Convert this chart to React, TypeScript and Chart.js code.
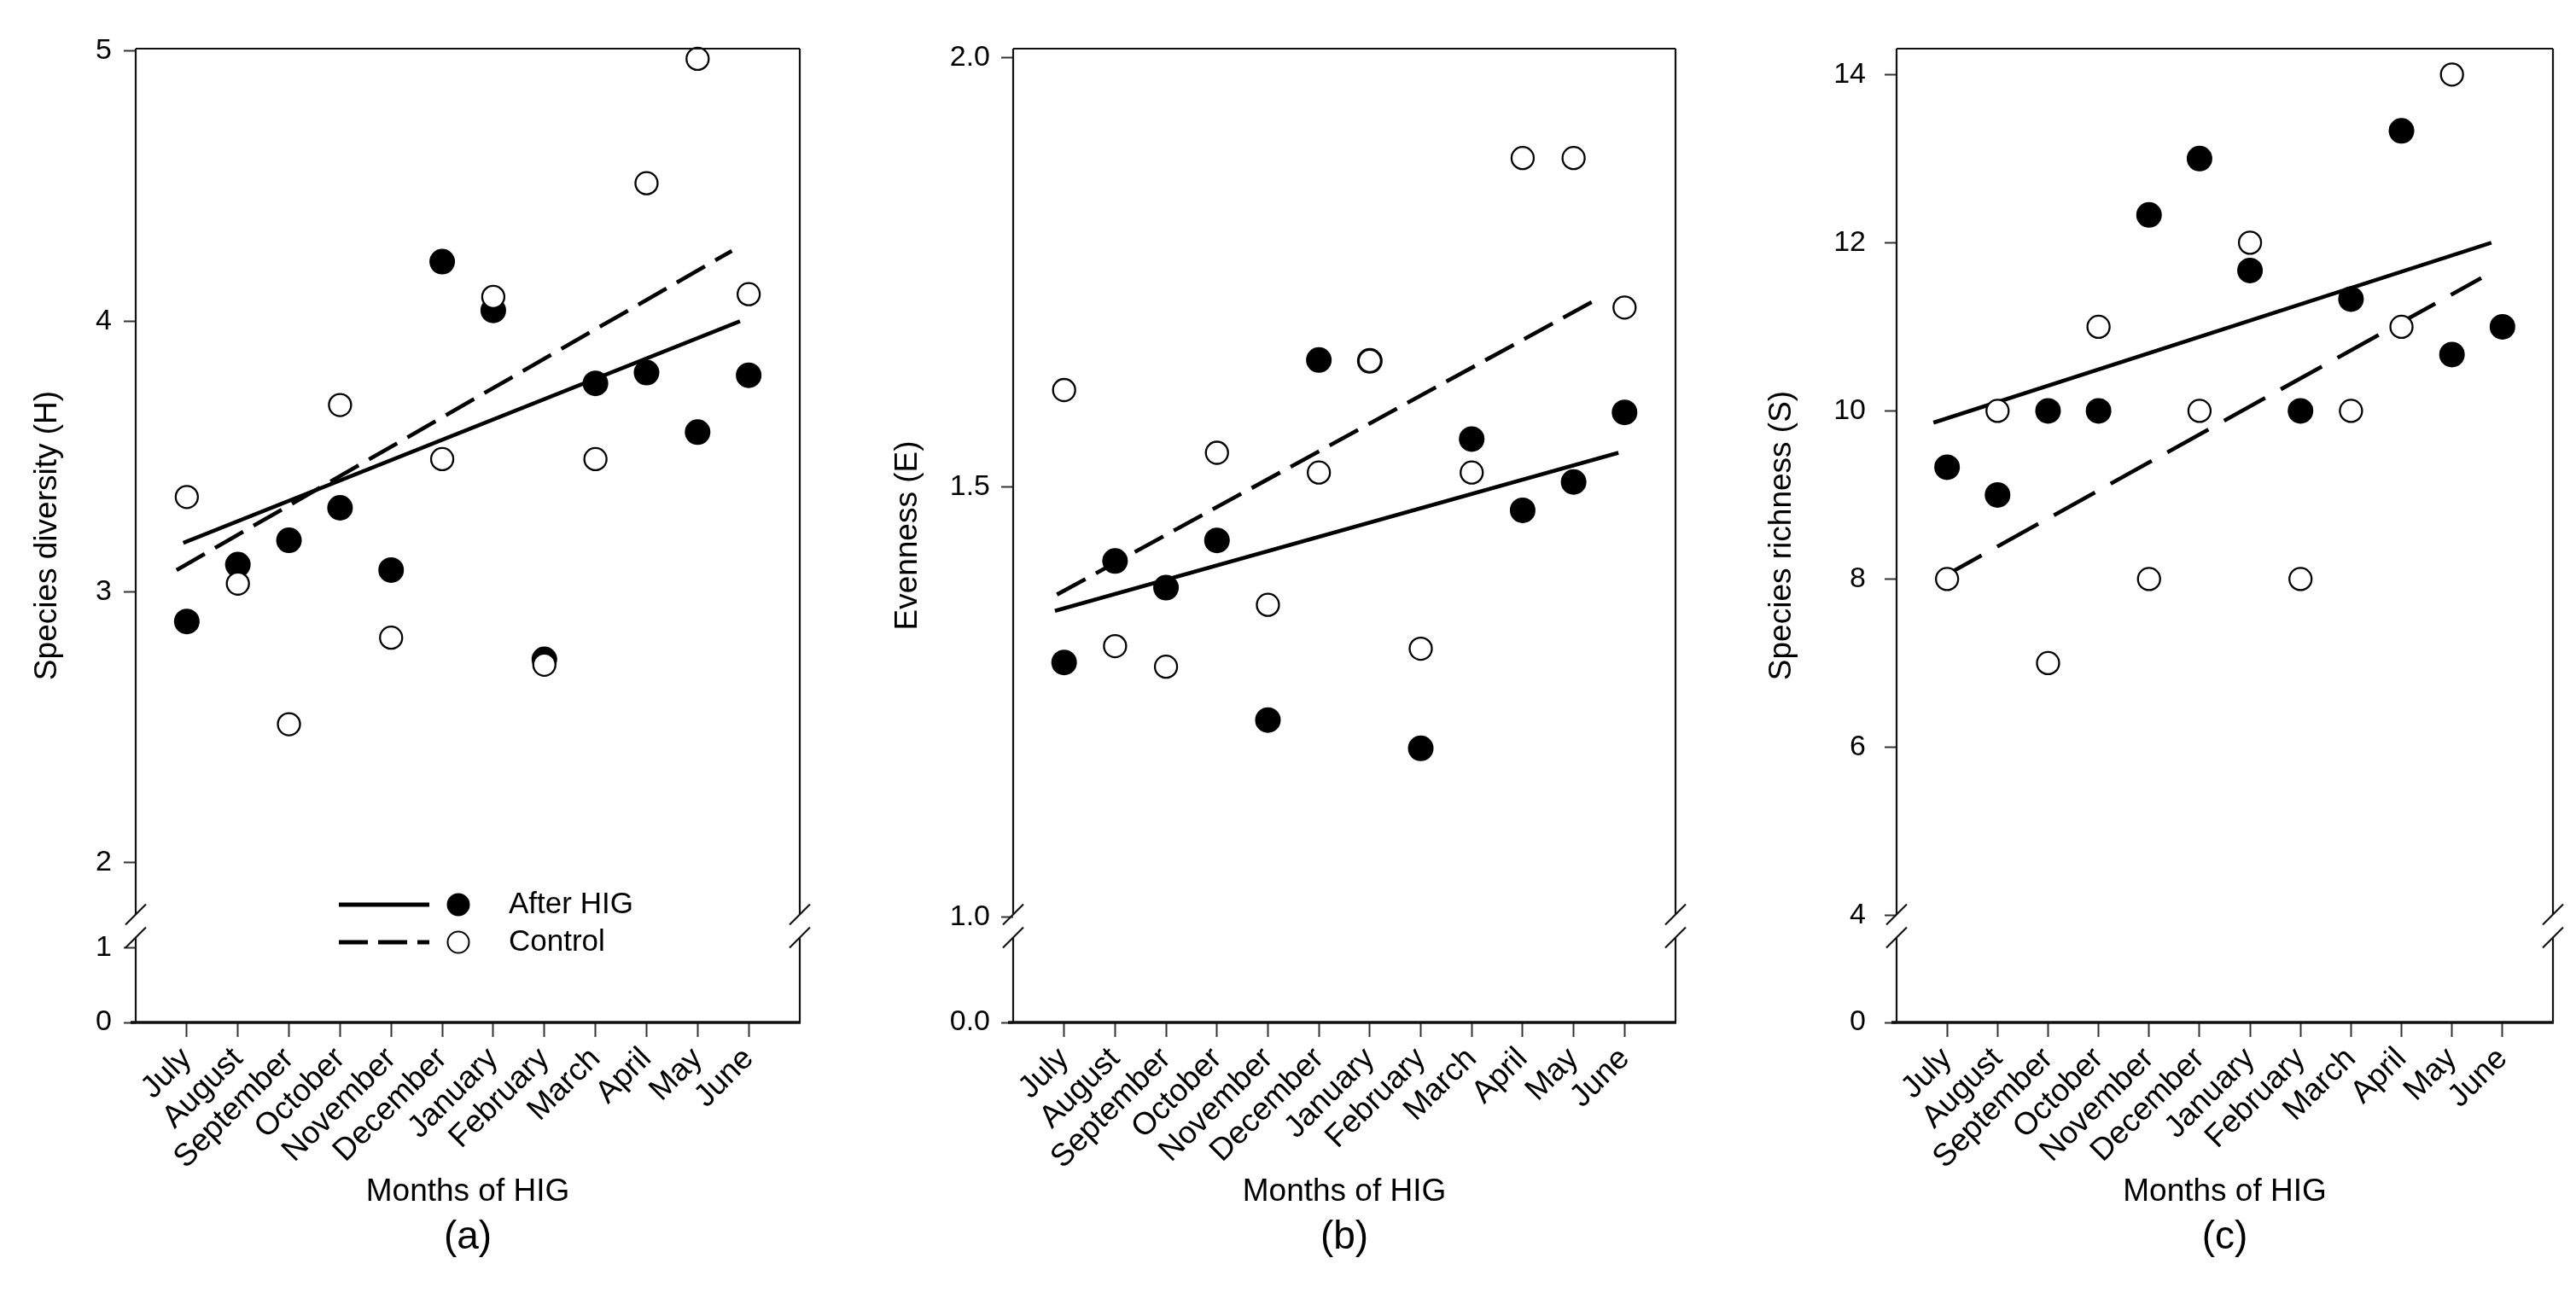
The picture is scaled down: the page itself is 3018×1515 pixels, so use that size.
"use client";

import { useEffect, useRef } from "react";

import { Chart, LinearScale, LineElement, PointElement, ScatterController, Title } from "chart.js";

const months = [
  "July",
  "August",
  "September",
  "October",
  "November",
  "December",
  "January",
  "February",
  "March",
  "April",
  "May",
  "June",
];

// (a) species diversity
const diversityAfter = [2.89, 3.1, 3.19, 3.31, 3.08, 4.22, 4.04, 2.75, 3.77, 3.81, 3.59, 3.8];
const diversityControl = [3.35, 3.03, 2.51, 3.69, 2.83, 3.49, 4.09, 2.73, 3.49, 4.51, 4.97, 4.1];
const diversityAfterFit = [
  [-0.07, 3.18],
  [10.83, 4.0],
];
const diversityControlFit = [
  [-0.2, 3.08],
  [10.67, 4.26],
];
const diversityTicks = [0, 1, 2, 3, 4, 5];

// (b) evenness
const evennessAfter = [1.296, 1.414, 1.383, 1.438, 1.229, 1.648, 1.647, 1.196, 1.556, 1.473, 1.506, 1.587];
const evennessControl = [1.613, 1.315, 1.291, 1.54, 1.363, 1.517, 1.647, 1.312, 1.517, 1.883, 1.883, 1.709];
const evennessAfterFit = [
  [-0.18, 1.356],
  [10.88, 1.54],
];
const evennessControlFit = [
  [-0.14, 1.375],
  [10.56, 1.722],
];
const evennessTicks = [0, 1, 1.5, 2];

// (c) species richness
const richnessAfter = [9.33, 9, 10, 10, 12.33, 13, 11.67, 10, 11.33, 13.33, 10.67, 11];
const richnessControl = [8, 10, 7, 11, 8, 10, 12, 8, 10, 11, 14, null];
const richnessAfterFit = [
  [-0.27, 9.86],
  [10.78, 12.0],
];
const richnessControlFit = [
  [-0.13, 8.01],
  [10.58, 11.58],
];
const richnessTicks = [0, 4, 6, 8, 10, 12, 14];

// linear scale with a broken (piecewise) axis
class BrokenScale extends LinearScale {
  static id = "broken";
  static defaults = {};

  buildTicks() {
    const vals = (this.options as any).tickValues || [];
    return vals.map((value: number) => ({ value }));
  }

  valueToDecimal(v: number) {
    const vals = (this.options as any).breakValues;
    const decs = (this.options as any).breakDecimals;
    let i = 0;
    while (i < vals.length - 2 && v > vals[i + 1]) i++;
    return decs[i] + ((v - vals[i]) / (vals[i + 1] - vals[i])) * (decs[i + 1] - decs[i]);
  }

  getPixelForValue(value: number) {
    if (value === null || value === undefined || isNaN(value)) return NaN;
    return this.getPixelForDecimal(this.valueToDecimal(value));
  }

  getValueForPixel(pixel: number) {
    const d = this.getDecimalForPixel(pixel);
    const vals = (this.options as any).breakValues;
    const decs = (this.options as any).breakDecimals;
    let i = 0;
    while (i < decs.length - 2 && d > decs[i + 1]) i++;
    return vals[i] + ((d - decs[i]) / (decs[i + 1] - decs[i])) * (vals[i + 1] - vals[i]);
  }
}

Chart.register(ScatterController, PointElement, LineElement, LinearScale, BrokenScale, Title);
Chart.defaults.font.family = "'Liberation Sans', Arial, sans-serif";
Chart.defaults.color = "#000";

const FONT = "'Liberation Sans', Arial, sans-serif";
const PAGE_H = 1515;

const framePlugin = (breakDecimal: number) => ({
  id: "frame",
  afterDatasetsDraw(chart: any) {
    const { ctx, chartArea } = chart;
    const { left, right, top, bottom } = chartArea;
    const yb = chart.scales.y.getPixelForDecimal(breakDecimal);
    const gap = 13.5;
    const line = (x1: number, y1: number, x2: number, y2: number) => {
      ctx.beginPath();
      ctx.moveTo(x1, y1);
      ctx.lineTo(x2, y2);
      ctx.stroke();
    };
    ctx.save();
    ctx.strokeStyle = "#111";
    ctx.lineWidth = 2.2;
    line(left, top, right, top);
    [left, right].forEach((x) => {
      line(x, top, x, yb - gap);
      line(x, yb + gap, x, bottom);
      line(x - 12, yb - gap + 12, x + 12, yb - gap - 12);
      line(x - 12, yb + gap + 12, x + 12, yb + gap - 12);
    });
    ctx.lineWidth = 3.5;
    line(left - 6, bottom, right + 1, bottom);
    ctx.restore();
  },
});

const legendPlugin = {
  id: "insideLegend",
  afterDatasetsDraw(chart: any) {
    const { ctx, chartArea } = chart;
    const ds = chart.data.datasets;
    const rows = [
      { line: ds[2], point: ds[1], y: chartArea.bottom - 138 },
      { line: ds[3], point: ds[0], y: chartArea.bottom - 94 },
    ];
    ctx.save();
    rows.forEach((row) => {
      const x = chartArea.left;
      ctx.strokeStyle = row.line.borderColor;
      ctx.lineWidth = 5;
      ctx.setLineDash(row.line.borderDash ? [34, 12] : []);
      ctx.beginPath();
      ctx.moveTo(x + 238, row.y);
      ctx.lineTo(x + 344, row.y);
      ctx.stroke();
      ctx.setLineDash([]);
      ctx.beginPath();
      ctx.arc(x + 378, row.y, 12.5, 0, Math.PI * 2);
      ctx.fillStyle = row.point.pointBackgroundColor;
      ctx.fill();
      ctx.lineWidth = 2;
      ctx.strokeStyle = "#000";
      ctx.stroke();
      ctx.fillStyle = "#000";
      ctx.font = `35px ${FONT}`;
      ctx.textAlign = "left";
      ctx.textBaseline = "middle";
      ctx.fillText(row.point.label, x + 437, row.y);
    });
    ctx.restore();
  },
};

const toPoints = (values: (number | null)[]) => values.map((y, x) => ({ x, y }));
const toFit = (pairs: number[][]) => pairs.map(([x, y]) => ({ x, y }));

type PanelSpec = {
  letter: string;
  left: number;
  width: number;
  axisWidth: number;
  padRight: number;
  titlePad: number;
  tickPad: number;
  yTitle: string;
  after: number[];
  control: (number | null)[];
  afterFit: number[][];
  controlFit: number[][];
  ticks: number[];
  tickFormat: (v: number) => string;
  breakValues: number[];
  breakDecimals: number[];
  dash: number[];
  legend: boolean;
};

const panels: PanelSpec[] = [
  {
    letter: "(a)",
    left: 0,
    width: 1000,
    axisWidth: 159,
    padRight: 63,
    titlePad: 33.8,
    tickPad: 14,
    yTitle: "Species diversity (H)",
    after: diversityAfter,
    control: diversityControl,
    afterFit: diversityAfterFit,
    controlFit: diversityControlFit,
    ticks: diversityTicks,
    tickFormat: (v) => String(v),
    breakValues: [0, 1, 2, 5.0076],
    breakDecimals: [0, 0.077, 0.1646, 1],
    dash: [38, 14],
    legend: true,
  },
  {
    letter: "(b)",
    left: 1000,
    width: 1000,
    axisWidth: 187,
    padRight: 37,
    titlePad: 41.8,
    tickPad: 13,
    yTitle: "Evenness (E)",
    after: evennessAfter,
    control: evennessControl,
    afterFit: evennessAfterFit,
    controlFit: evennessControlFit,
    ticks: evennessTicks,
    tickFormat: (v) => v.toFixed(1),
    breakValues: [0, 1, 2.0103],
    breakDecimals: [0, 0.1085, 1],
    dash: [38, 14],
    legend: false,
  },
  {
    letter: "(c)",
    left: 2000,
    width: 1018,
    axisWidth: 222,
    padRight: 27,
    titlePad: 65.8,
    tickPad: 22,
    yTitle: "Species richness (S)",
    after: richnessAfter,
    control: richnessControl,
    afterFit: richnessAfterFit,
    controlFit: richnessControlFit,
    ticks: richnessTicks,
    tickFormat: (v) => String(v),
    breakValues: [0, 4, 14.308],
    breakDecimals: [0, 0.11, 1],
    dash: [55, 21],
    legend: false,
  },
];

function buildConfig(p: PanelSpec): any {
  return {
    type: "scatter",
    data: {
      datasets: [
        {
          label: "Control",
          data: toPoints(p.control),
          pointRadius: 13,
          pointBorderWidth: 2.3,
          pointBackgroundColor: "#fff",
          pointBorderColor: "#000",
          clip: false,
        },
        {
          label: "After HIG",
          data: toPoints(p.after),
          pointRadius: 15,
          pointBorderWidth: 0,
          pointBackgroundColor: "#000",
          pointBorderColor: "#000",
          clip: false,
        },
        {
          label: "After HIG fit",
          data: toFit(p.afterFit),
          showLine: true,
          pointRadius: 0,
          borderColor: "#000",
          borderWidth: 4.6,
          clip: false,
        },
        {
          label: "Control fit",
          data: toFit(p.controlFit),
          showLine: true,
          pointRadius: 0,
          borderColor: "#000",
          borderWidth: 4.6,
          borderDash: p.dash,
          clip: false,
        },
      ],
    },
    options: {
      animation: false,
      responsive: true,
      maintainAspectRatio: false,
      events: [],
      layout: { padding: { top: 57, right: p.padRight, left: 0, bottom: 0 } },
      scales: {
        x: {
          type: "linear",
          min: -1,
          max: 12,
          afterBuildTicks: (s: any) => {
            s.ticks = months.map((_, i) => ({ value: i }));
          },
          afterFit: (s: any) => {
            s.height = 224.4;
          },
          border: { display: false },
          grid: {
            drawOnChartArea: false,
            drawTicks: true,
            tickLength: 17,
            tickWidth: 2,
            tickColor: "#333",
          },
          ticks: {
            autoSkip: false,
            minRotation: 45,
            maxRotation: 45,
            padding: 4,
            color: "#000",
            font: { size: 37 },
            callback: (v: number) => months[Number(v)] ?? "",
          },
          title: {
            display: true,
            text: "Months of HIG",
            color: "#000",
            font: { size: 37 },
            padding: { top: 0, bottom: 3.2 },
          },
        },
        y: {
          type: "broken",
          min: 0,
          max: p.breakValues[p.breakValues.length - 1],
          tickValues: p.ticks,
          breakValues: p.breakValues,
          breakDecimals: p.breakDecimals,
          afterFit: (s: any) => {
            s.width = p.axisWidth;
          },
          border: { display: false },
          grid: {
            drawOnChartArea: false,
            drawTicks: true,
            tickLength: 14,
            tickWidth: 2,
            tickColor: "#333",
          },
          ticks: {
            autoSkip: false,
            padding: p.tickPad,
            color: "#000",
            font: { size: 34 },
            callback: (v: number) => p.tickFormat(Number(v)),
          },
          title: {
            display: true,
            text: p.yTitle,
            color: "#000",
            font: { size: 37 },
            padding: { top: p.titlePad, bottom: 0 },
          },
        },
      },
      plugins: {
        title: {
          display: true,
          text: p.letter,
          position: "bottom",
          fullSize: false,
          color: "#000",
          font: { size: 46, weight: "normal" },
          padding: { top: 0, bottom: 37.4 },
        },
      },
    },
    plugins: p.legend ? [framePlugin(0.099), legendPlugin] : [framePlugin(0.099)],
  };
}

function Panel({ spec }: { spec: PanelSpec }) {
  const chartRef = useRef<HTMLCanvasElement>(null);

  useEffect(() => {
    if (!chartRef.current) return;
    const chart = new Chart(chartRef.current, buildConfig(spec));
    return () => {
      chart.destroy();
    };
  }, [spec]);

  return (
    <div style={{ position: "absolute", left: spec.left, top: 0, width: spec.width, height: PAGE_H }}>
      <canvas ref={chartRef} />
    </div>
  );
}

export default function App() {
  return (
    <div style={{ position: "absolute", left: 0, top: 0, width: 3018, height: PAGE_H, background: "#fff" }}>
      {panels.map((p) => (
        <Panel key={p.letter} spec={p} />
      ))}
    </div>
  );
}
